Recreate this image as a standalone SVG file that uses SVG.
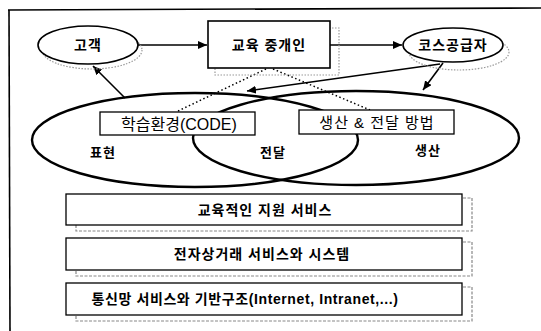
<svg xmlns="http://www.w3.org/2000/svg" width="541" height="331" viewBox="0 0 541 331">
<defs>
<marker id="ah" markerUnits="userSpaceOnUse" markerWidth="10" markerHeight="8" refX="9" refY="4" orient="auto">
<path d="M0,0 L9,4 L0,8 z" fill="#000"/>
</marker>
<style>
.t{font-family:"Liberation Sans","Noto Sans CJK KR",sans-serif;fill:#000;text-anchor:middle;dominant-baseline:central}
.b{font-weight:bold}
.node{fill:#fff;stroke:#000;stroke-width:1.6}
.shadow{fill:none;stroke:#999;stroke-width:1.2;stroke-dasharray:1.5 1.5}
.big{fill:none;stroke:#000;stroke-width:2.4}
.box{fill:#fff;stroke:#000;stroke-width:1.3}
.back{fill:#fff;stroke:#888;stroke-width:1.2;stroke-dasharray:3 1.5}
.conn{fill:none;stroke:#000;stroke-width:1.6}
.dot{fill:none;stroke:#000;stroke-width:1.5;stroke-dasharray:1.5 2.5}
</style>
</defs>
<rect width="541" height="331" fill="#fff"/>
<g id="frame">
<path d="M8,10 L541,8" stroke="#000" stroke-width="1.6" fill="none"/>
<path d="M9,10 L10,331" stroke="#000" stroke-width="1.6" fill="none"/>
</g>
<g id="overlap">
<ellipse class="big" cx="195" cy="140" rx="163" ry="47"/>
<ellipse class="big" cx="356" cy="138" rx="163" ry="47"/>
<text class="t b" x="103" y="152" font-size="13" letter-spacing="1">표현</text>
<text class="t b" x="273" y="152" font-size="13" letter-spacing="1">전달</text>
<text class="t b" x="428" y="150" font-size="13" letter-spacing="1">생산</text>
</g>
<g id="connectors">
<line class="conn" x1="137" y1="45" x2="207" y2="45" marker-end="url(#ah)"/>
<line class="conn" x1="330" y1="45" x2="402" y2="45" marker-end="url(#ah)"/>
<line class="conn" x1="443" y1="63" x2="423" y2="90" marker-end="url(#ah)"/>
<line class="conn" x1="440" y1="64" x2="247" y2="91" marker-end="url(#ah)"/>
<line class="conn" x1="125" y1="98" x2="93" y2="66" marker-end="url(#ah)"/>
<line class="dot" x1="266" y1="69" x2="178" y2="111"/>
<line class="dot" x1="273" y1="69" x2="370" y2="110"/>
</g>
<g id="customer">
<ellipse class="shadow" cx="92" cy="50" rx="50" ry="19"/>
<ellipse class="node" cx="88" cy="45" rx="50" ry="19"/>
<text class="t b" x="88" y="45" font-size="14" letter-spacing="1">고객</text>
</g>
<g id="broker">
<rect class="shadow" x="215" y="28" width="124" height="47"/>
<rect class="node" x="208" y="21" width="122" height="47"/>
<text class="t b" x="269" y="45" font-size="14" letter-spacing="1">교육 중개인</text>
</g>
<g id="supplier">
<ellipse class="shadow" cx="459" cy="52" rx="50" ry="18"/>
<ellipse class="node" cx="453" cy="45" rx="50" ry="17"/>
<text class="t b" x="453" y="45" font-size="14" letter-spacing="1">코스공급자</text>
</g>
<g id="code">
<rect class="box" x="100" y="112" width="155" height="23"/>
<text class="t" x="179" y="124" font-size="16">학습환경(CODE)</text>
</g>
<g id="method">
<rect class="box" x="299" y="110" width="155" height="24"/>
<text class="t" x="377" y="122" font-size="15" letter-spacing="1">생산 &amp; 전달 방법</text>
</g>
<g id="layer1">
<rect class="back" x="76" y="198" width="396" height="33"/>
<rect class="box" x="66" y="194" width="396" height="31"/>
<text class="t b" x="265" y="210" font-size="14" letter-spacing="1">교육적인 지원 서비스</text>
</g>
<g id="layer2">
<rect class="back" x="76" y="242" width="396" height="34"/>
<rect class="box" x="66" y="238" width="396" height="32"/>
<text class="t b" x="262" y="254" font-size="14" letter-spacing="1">전자상거래 서비스와 시스템</text>
</g>
<g id="layer3">
<rect class="back" x="76" y="287" width="396" height="34"/>
<rect class="box" x="66" y="283" width="396" height="32"/>
<text class="t b" x="245" y="299" font-size="14" letter-spacing="0.6">통신망 서비스와 기반구조(Internet, Intranet,...)</text>
</g>
</svg>
